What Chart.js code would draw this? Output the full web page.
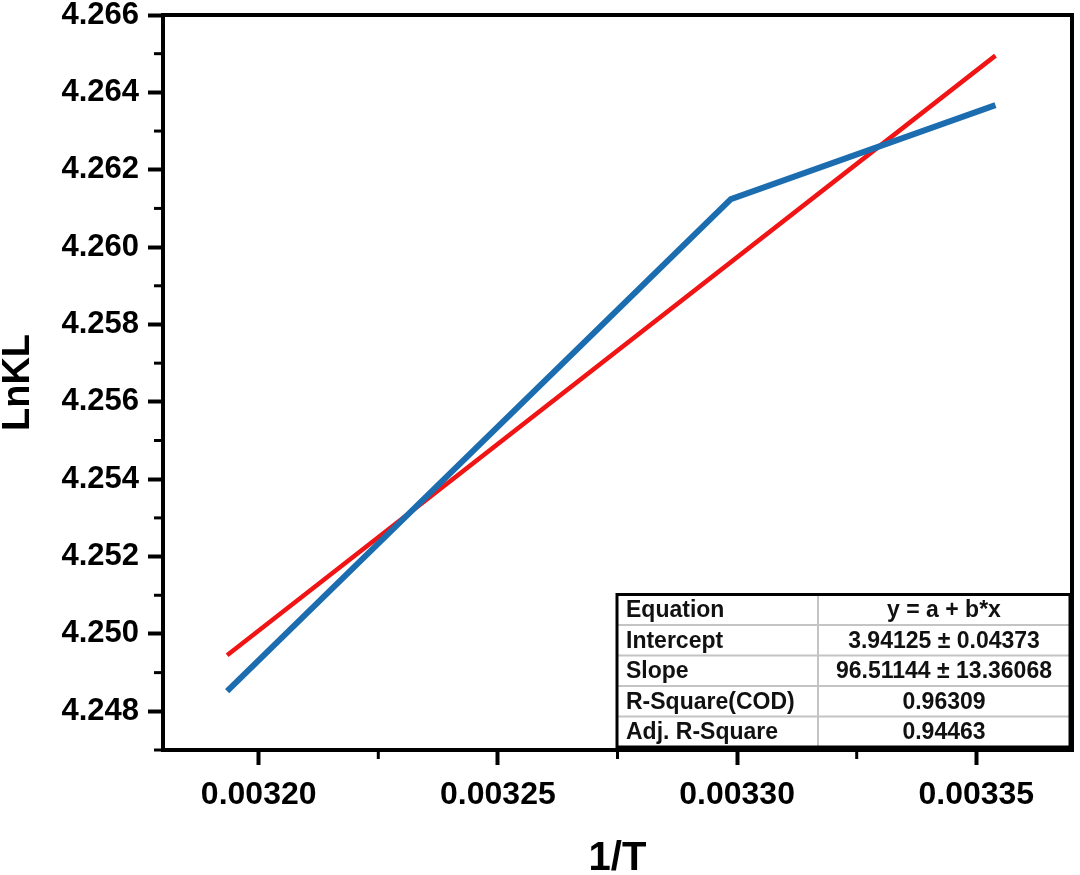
<!DOCTYPE html>
<html>
<head>
<meta charset="utf-8">
<script src="https://cdn.jsdelivr.net/npm/chart.js@4"></script>
<style>
  html, body { margin: 0; padding: 0; background: #fff; }
  canvas { display: block; }
</style>
</head>
<body>
<canvas id="chart" width="1080" height="875"></canvas>
<script>
// van't Hoff style plot: LnKL vs 1/T with linear fit

const FONT = '"Liberation Sans", Arial, sans-serif';

// --- Data ---
const invT = [0.0031934, 0.0032987, 0.0033540];
const lnKL = [4.24852, 4.26124, 4.26367];

const fitX = [0.0031934, 0.0033540];
const fitY = [4.24945, 4.26495];

const xTicks = [0.00320, 0.00325, 0.00330, 0.00335];
const xMinorTicks = [0.003225, 0.003275, 0.003325];
const yTicks = [4.248, 4.250, 4.252, 4.254, 4.256, 4.258, 4.260, 4.262, 4.264, 4.266];
const yMinorTicks = [4.247, 4.249, 4.251, 4.253, 4.255, 4.257, 4.259, 4.261, 4.263, 4.265];

const tableLabels = ['Equation', 'Intercept', 'Slope', 'R-Square(COD)', 'Adj. R-Square'];
const tableValues = ['y = a + b*x', '3.94125 \u00b1 0.04373', '96.51144 \u00b1 13.36068', '0.96309', '0.94463'];

// --- Plugins ---

// minor ticks, top/right frame and the fit table
const extras = {
    id: 'extras',
    afterDraw(chart) {
        const { ctx, chartArea, scales } = chart;
        const { left, right, top, bottom } = chartArea;
        ctx.save();

        // minor ticks
        ctx.strokeStyle = '#000';
        ctx.lineWidth = 3;
        yMinorTicks.forEach(v => {
            const y = scales.y.getPixelForValue(v);
            ctx.beginPath();
            ctx.moveTo(left - 9, y);
            ctx.lineTo(left, y);
            ctx.stroke();
        });
        xMinorTicks.forEach(v => {
            const x = scales.x.getPixelForValue(v);
            ctx.beginPath();
            ctx.moveTo(x, bottom);
            ctx.lineTo(x, bottom + 9);
            ctx.stroke();
        });

        // top and right frame
        ctx.lineWidth = 4;
        ctx.beginPath();
        ctx.moveTo(left - 2, top);
        ctx.lineTo(right, top);
        ctx.lineTo(right, bottom + 2);
        ctx.stroke();

        // fit table
        const tRight = right - 2;
        const tBottom = bottom - 3;
        const rowH = 30.5;
        const tTop = tBottom - rowH * tableLabels.length;
        const tLeft = tRight - 453;
        const colX = tLeft + 201;

        ctx.fillStyle = '#fff';
        ctx.fillRect(tLeft, tTop, tRight - tLeft, tBottom - tTop);

        ctx.strokeStyle = '#c4c4c4';
        ctx.lineWidth = 2;
        for (let i = 1; i < tableLabels.length; i++) {
            const y = tTop + rowH * i;
            ctx.beginPath();
            ctx.moveTo(tLeft, y);
            ctx.lineTo(tRight, y);
            ctx.stroke();
        }
        ctx.beginPath();
        ctx.moveTo(colX, tTop);
        ctx.lineTo(colX, tBottom);
        ctx.stroke();

        ctx.strokeStyle = '#000';
        ctx.lineWidth = 3;
        ctx.strokeRect(tLeft, tTop, tRight - tLeft, tBottom - tTop);

        ctx.fillStyle = '#111';
        ctx.font = `bold 23px ${FONT}`;
        ctx.textBaseline = 'middle';
        tableLabels.forEach((label, i) => {
            const y = tTop + rowH * i + rowH / 2 + 1;
            ctx.textAlign = 'left';
            ctx.fillText(label, tLeft + 9, y);
            ctx.textAlign = 'center';
            ctx.fillText(tableValues[i], (colX + tRight) / 2, y);
        });

        ctx.restore();
    }
};

// --- Chart ---

const ctx = document.getElementById('chart');

new Chart(ctx, {
    type: 'scatter',
    data: {
        datasets: [
            {
                label: 'LnKL',
                data: invT.map((x, i) => ({ x, y: lnKL[i] })),
                showLine: true,
                borderColor: '#1b6db0',
                borderWidth: 6,
                pointRadius: 0,
                borderCapStyle: 'butt',
            },
            {
                label: 'Linear fit',
                data: fitX.map((x, i) => ({ x, y: fitY[i] })),
                showLine: true,
                borderColor: '#f01414',
                borderWidth: 4.5,
                pointRadius: 0,
                borderCapStyle: 'butt',
            },
        ],
    },
    options: {
        responsive: false,
        animation: false,
        devicePixelRatio: 1,
        layout: { padding: { top: 15, right: 8, bottom: 0, left: 0 } },
        plugins: {
            legend: { display: false },
            tooltip: { enabled: false },
        },
        scales: {
            x: {
                type: 'linear',
                min: 0.00318,
                max: 0.00337,
                afterBuildTicks: s => { s.ticks = xTicks.map(v => ({ value: v })); },
                afterFit: s => {
                    s.height = 125;
                    s.paddingLeft = 0;
                    s.paddingRight = 0;
                },
                ticks: {
                    autoSkip: false,
                    maxRotation: 0,
                    padding: 11,
                    color: '#000',
                    font: { family: FONT, size: 32, weight: 'bold' },
                    callback: v => Number(v).toFixed(5),
                },
                grid: {
                    drawOnChartArea: false,
                    tickLength: 15,
                    tickWidth: 4,
                    tickColor: '#000',
                },
                border: { color: '#000', width: 4 },
                title: {
                    display: true,
                    text: '1/T',
                    color: '#000',
                    padding: { top: 0, bottom: 0 },
                    font: { family: FONT, size: 40, weight: 'bold', lineHeight: 0.8 },
                },
            },
            y: {
                type: 'linear',
                min: 4.247,
                max: 4.266,
                afterBuildTicks: s => { s.ticks = yTicks.map(v => ({ value: v })); },
                afterFit: s => {
                    s.width = 163;
                    s.paddingTop = 0;
                    s.paddingBottom = 0;
                },
                ticks: {
                    padding: 9,
                    color: '#000',
                    font: { family: FONT, size: 31, weight: 'bold' },
                    callback: v => Number(v).toFixed(3),
                },
                grid: {
                    drawOnChartArea: false,
                    tickLength: 15,
                    tickWidth: 4,
                    tickColor: '#000',
                },
                border: { color: '#000', width: 4 },
                title: {
                    display: true,
                    text: 'LnKL',
                    color: '#000',
                    padding: { top: 0, bottom: 0 },
                    font: { family: FONT, size: 38, weight: 'bold', lineHeight: 1 },
                },
            },
        },
    },
    plugins: [extras],
});
</script>
</body>
</html>
